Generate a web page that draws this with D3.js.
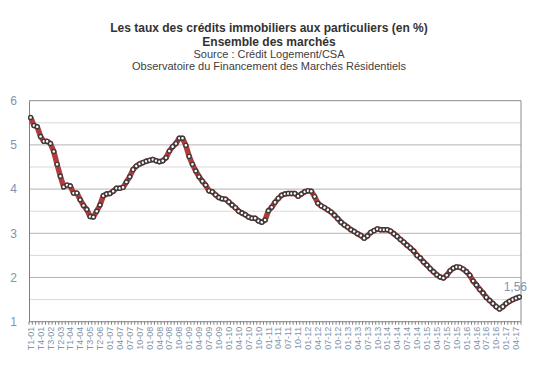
<!DOCTYPE html>
<html>
<head>
<meta charset="utf-8">
<script src="https://cdn.jsdelivr.net/npm/d3@7"></script>
<style>
  body { margin: 0; background: #fff; }
  svg { display: block; font-family: "Liberation Sans", Arial, sans-serif; }
</style>
</head>
<body>
<div id="chart"></div>
<script>
var w = 543, h = 377;
var margin = { top: 100.7, right: 22, bottom: 55.3, left: 29 };

// quarterly period 2001-2006, then monthly from 2007
var quarters = ["T1-01","T2-01","T3-01","T4-01","T1-02","T2-02","T3-02","T4-02",
    "T1-03","T2-03","T3-03","T4-03","T1-04","T2-04","T3-04","T4-04",
    "T1-05","T2-05","T3-05","T4-05","T1-06","T2-06","T3-06","T4-06"];
var years = ["07","08","09","10","11","12","13","14","15","16","17"];
var months = ["01","02","03","04","05","06","07","08","09","10","11","12"];
var lastMonths = 5; // 2017 stops in May

var rates = [5.62, 5.44, 5.41, 5.19, 5.08, 5.08, 5.03, 4.85, 4.56, 4.29,
    4.05, 4.09, 4.07, 3.91, 3.91, 3.76, 3.63, 3.54, 3.38, 3.37,
    3.50, 3.64, 3.85, 3.89, 3.90, 3.95, 4.02, 4.02, 4.04, 4.16,
    4.28, 4.44, 4.52, 4.57, 4.60, 4.63, 4.65, 4.67, 4.64, 4.62,
    4.64, 4.71, 4.86, 4.96, 5.03, 5.15, 5.15, 4.99, 4.74, 4.56,
    4.41, 4.28, 4.18, 4.09, 3.96, 3.94, 3.87, 3.81, 3.78, 3.77,
    3.71, 3.64, 3.58, 3.50, 3.46, 3.42, 3.37, 3.34, 3.34, 3.28,
    3.25, 3.30, 3.51, 3.59, 3.70, 3.79, 3.86, 3.89, 3.90, 3.90,
    3.90, 3.84, 3.89, 3.94, 3.96, 3.95, 3.83, 3.68, 3.62, 3.58,
    3.53, 3.48, 3.41, 3.33, 3.25, 3.19, 3.14, 3.08, 3.04, 2.99,
    2.95, 2.89, 2.94, 3.02, 3.06, 3.10, 3.08, 3.08, 3.08, 3.05,
    2.99, 2.93, 2.86, 2.80, 2.73, 2.67, 2.60, 2.50, 2.44, 2.35,
    2.28, 2.20, 2.13, 2.06, 2.01, 1.99, 2.05, 2.15, 2.21, 2.24,
    2.23, 2.19, 2.13, 2.05, 1.92, 1.83, 1.73, 1.65, 1.55, 1.48,
    1.41, 1.34, 1.29, 1.34, 1.41, 1.46, 1.50, 1.53, 1.56];

var yTicks = [1, 2, 3, 4, 5, 6];
var yMinor = [1.5, 2.5, 3.5, 4.5, 5.5];

var categories = quarters.slice();
years.forEach(function (y, yi) {
    var n = yi === years.length - 1 ? lastMonths : 12;
    for (var m = 0; m < n; m++) categories.push(months[m] + "-" + y);
});

var data = categories.map(function (c, i) { return { cat: c, v: rates[i] }; });

var tickColor = "#8094ad";

function drawChart() {
    var svg = d3.select("#chart").append("svg")
        .attr("width", w)
        .attr("height", h);

    var x = d3.scaleBand()
        .domain(categories)
        .range([margin.left, w - margin.right]);
    var y = d3.scaleLinear()
        .domain([1, 6])
        .range([h - margin.bottom, margin.top]);

    // titles
    var titles = [
        { t: "Les taux des crédits immobiliers aux particuliers (en %)", y: 32, b: true },
        { t: "Ensemble des marchés", y: 46, b: true },
        { t: "Source : Crédit Logement/CSA", y: 58, b: false },
        { t: "Observatoire du Financement des Marchés Résidentiels", y: 70, b: false }
    ];
    svg.selectAll("text.title")
        .data(titles)
        .enter().append("text")
        .attr("class", "title")
        .attr("x", 269)
        .attr("y", d => d.y)
        .attr("text-anchor", "middle")
        .attr("font-size", d => d.b ? "12px" : "11px")
        .attr("font-weight", d => d.b ? "bold" : "normal")
        .attr("fill", d => d.b ? "#333" : "#404040")
        .text(d => d.t);

    // gridlines
    svg.append("g").selectAll("line")
        .data(yMinor)
        .enter().append("line")
        .attr("x1", margin.left).attr("x2", w - margin.right)
        .attr("y1", d => y(d)).attr("y2", d => y(d))
        .attr("stroke", "#d9d9d9");
    svg.append("g").selectAll("line")
        .data(yTicks.slice(1, -1))
        .enter().append("line")
        .attr("x1", margin.left).attr("x2", w - margin.right)
        .attr("y1", d => y(d)).attr("y2", d => y(d))
        .attr("stroke", "#b3b3b3");

    // plot border (top + right)
    svg.append("path")
        .attr("d", "M" + margin.left + "," + y(6) + "H" + (w - margin.right) + "V" + y(1))
        .attr("fill", "none")
        .attr("stroke", "#8c8c8c");

    // y axis
    var yAxis = svg.append("g")
        .attr("transform", "translate(" + margin.left + ",0)")
        .call(d3.axisLeft(y).tickValues(yTicks).tickFormat(d3.format("d")).tickSize(0).tickPadding(12));
    yAxis.select(".domain").attr("stroke", "#808080");
    yAxis.selectAll("text")
        .attr("font-size", "12px")
        .attr("font-family", "Liberation Sans, Arial, sans-serif")
        .attr("fill", tickColor);

    // x axis
    var xAxis = svg.append("g")
        .attr("transform", "translate(0," + y(1) + ")");
    xAxis.append("line")
        .attr("x1", margin.left).attr("x2", w - margin.right)
        .attr("stroke", "#808080");
    var bounds = categories.map(c => x(c)).concat([x.range()[1]]);
    xAxis.selectAll("line.tick")
        .data(bounds)
        .enter().append("line")
        .attr("class", "tick")
        .attr("x1", d => d).attr("x2", d => d)
        .attr("y1", 0).attr("y2", 3)
        .attr("stroke", "#808080");
    xAxis.selectAll("text")
        .data(categories.filter((c, i) => i % 3 === 0))
        .enter().append("text")
        .attr("transform", d => "translate(" + (x(d) + x.bandwidth() / 2) + ",5) rotate(-90)")
        .attr("dy", "0.35em")
        .attr("text-anchor", "end")
        .attr("font-size", "9px")
        .attr("fill", tickColor)
        .text(d => d);

    // line + markers
    var line = d3.line()
        .x(d => x(d.cat) + x.bandwidth() / 2)
        .y(d => y(d.v));
    svg.append("path")
        .datum(data)
        .attr("d", line)
        .attr("fill", "none")
        .attr("stroke", "#b23b3b")
        .attr("stroke-width", 5.5)
        .attr("stroke-linejoin", "round");
    svg.append("g").selectAll("circle")
        .data(data)
        .enter().append("circle")
        .attr("cx", d => x(d.cat) + x.bandwidth() / 2)
        .attr("cy", d => y(d.v))
        .attr("r", 2)
        .attr("fill", "#fff")
        .attr("stroke", "#3a3a3a")
        .attr("stroke-width", 1.4);

    // last value label
    var last = data[data.length - 1];
    svg.append("text")
        .attr("x", x(last.cat) + x.bandwidth() / 2 - 4)
        .attr("y", y(last.v) - 6)
        .attr("text-anchor", "middle")
        .attr("font-size", "12px")
        .attr("fill", tickColor)
        .text(d3.format(".2f")(last.v).replace(".", ","));
}

window.onload = drawChart;
</script>
</body>
</html>
